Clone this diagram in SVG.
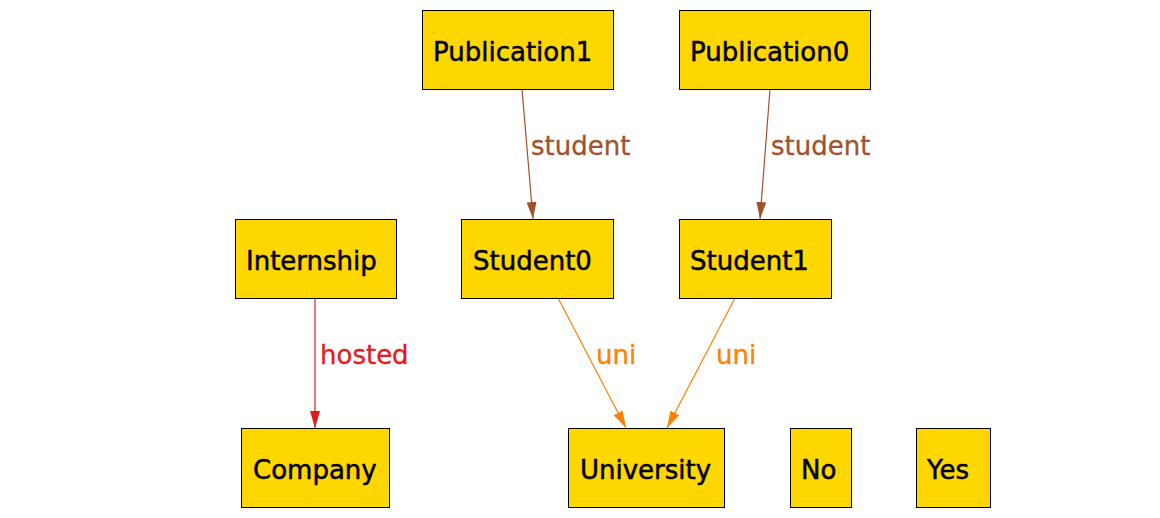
<svg xmlns="http://www.w3.org/2000/svg" width="1160" height="518" viewBox="0 0 1160 518">
<style>
.node rect{fill:#ffd700;stroke:#000;stroke-width:1}
.node text{font-family:"DejaVu Sans",sans-serif;font-size:26px;fill:#000;stroke:#000;stroke-width:0.5}
.lbl{font-family:"DejaVu Sans",sans-serif;font-size:26px;stroke-width:0.3}
.e{fill:none;stroke-width:1.2}
</style>
<defs>
<marker id="aB" markerWidth="17" markerHeight="10" refX="17" refY="5" orient="auto" markerUnits="userSpaceOnUse"><path d="M0,0 L17,5 L0,10 Z" fill="#a0522d"/></marker>
<marker id="aR" markerWidth="17" markerHeight="10" refX="17" refY="5" orient="auto" markerUnits="userSpaceOnUse"><path d="M0,0 L17,5 L0,10 Z" fill="#e41a1c"/></marker>
<marker id="aO" markerWidth="17" markerHeight="10" refX="17" refY="5" orient="auto" markerUnits="userSpaceOnUse"><path d="M0,0 L17,5 L0,10 Z" fill="#ff7f00"/></marker>
</defs>
<rect width="1160" height="518" fill="#fff"/>
<g id="connectors">
<line class="e" x1="522" y1="89" x2="533" y2="219" stroke="#a0522d" marker-end="url(#aB)"/>
<text class="lbl" x="531" y="155" fill="#a0522d" stroke="#a0522d">student</text>
<line class="e" x1="770" y1="89" x2="760" y2="219" stroke="#a0522d" marker-end="url(#aB)"/>
<text class="lbl" x="771" y="155" fill="#a0522d" stroke="#a0522d">student</text>
<line class="e" x1="315" y1="298" x2="315" y2="428" stroke="#e41a1c" marker-end="url(#aR)"/>
<text class="lbl" x="320" y="364" fill="#e41a1c" stroke="#e41a1c">hosted</text>
<line class="e" x1="558" y1="298" x2="626" y2="428" stroke="#ff7f00" marker-end="url(#aO)"/>
<text class="lbl" x="596" y="364" fill="#ff7f00" stroke="#ff7f00">uni</text>
<line class="e" x1="735" y1="298" x2="667" y2="428" stroke="#ff7f00" marker-end="url(#aO)"/>
<text class="lbl" x="716" y="364" fill="#ff7f00" stroke="#ff7f00">uni</text>
</g>
<g id="Publication1" class="node"><rect x="422.5" y="10.5" width="191" height="79"/><text x="433" y="61">Publication1</text></g>
<g id="Publication0" class="node"><rect x="679.5" y="10.5" width="191" height="79"/><text x="690" y="61">Publication0</text></g>
<g id="Internship" class="node"><rect x="235.5" y="219.5" width="161" height="79"/><text x="246" y="270">Internship</text></g>
<g id="Student0" class="node"><rect x="461.5" y="219.5" width="152" height="79"/><text x="473" y="270">Student0</text></g>
<g id="Student1" class="node"><rect x="679.5" y="219.5" width="152" height="79"/><text x="690" y="270">Student1</text></g>
<g id="Company" class="node"><rect x="241.5" y="428.5" width="148" height="79"/><text x="253" y="479">Company</text></g>
<g id="University" class="node"><rect x="568.5" y="428.5" width="156" height="79"/><text x="580" y="479">University</text></g>
<g id="No" class="node"><rect x="790.5" y="428.5" width="61" height="79"/><text x="801" y="479">No</text></g>
<g id="Yes" class="node"><rect x="916.5" y="428.5" width="74" height="79"/><text x="927" y="479">Yes</text></g>
</svg>
